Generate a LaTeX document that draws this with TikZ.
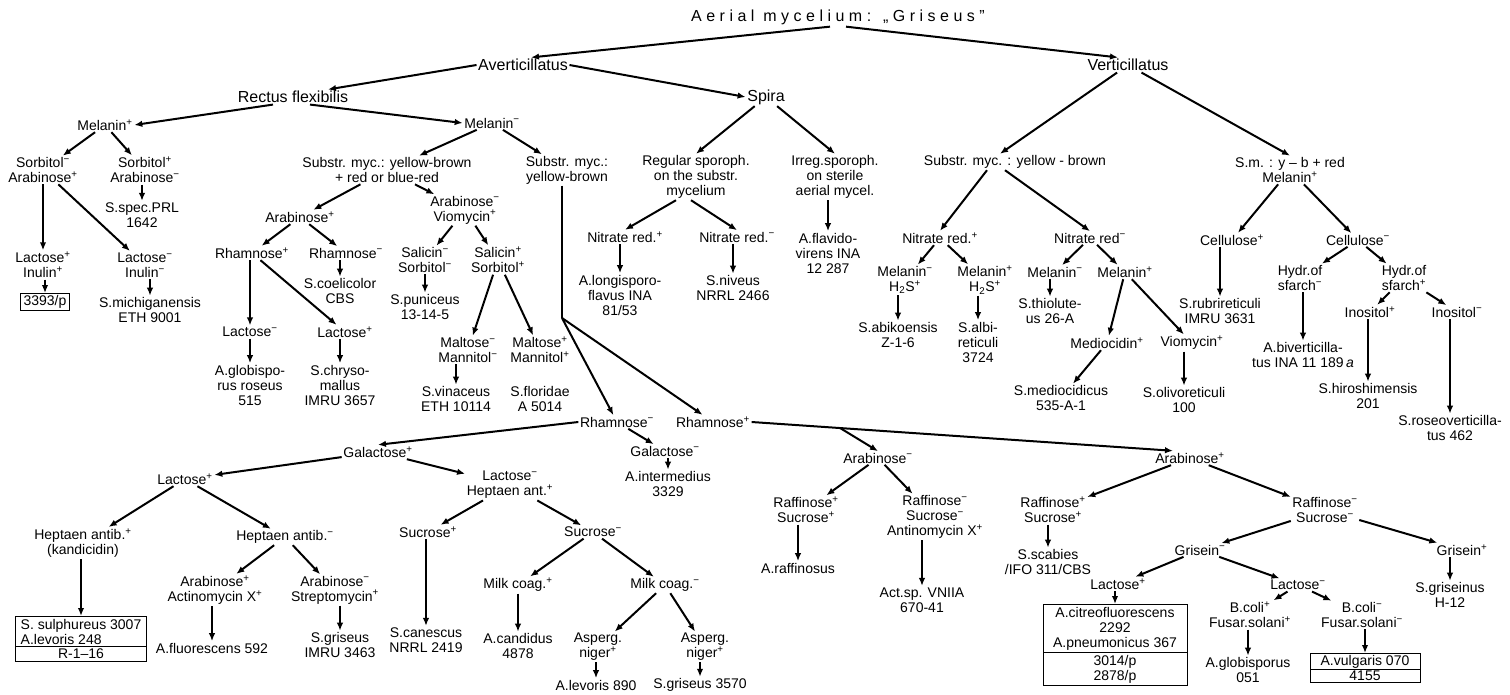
\documentclass[tikz,border=0pt]{standalone}
\usepackage{fontspec}
\setmainfont{Liberation Sans}
\usepackage{tikz}
\usetikzlibrary{arrows.meta, shapes.multipart, calc}

\newcommand{\upl}{\textsuperscript{+}}
\newcommand{\umi}{\textsuperscript{−}}

\tikzset{
  % Text styles
  lbl/.style={align=center, inner sep=1.5pt, font=\fontsize{14}{15}\selectfont},
  toplbl/.style={lbl, font=\fontsize{16}{17}\selectfont},
  titlelbl/.style={inner sep=2pt, font=\fontsize{16}{17}\selectfont\addfontfeature{LetterSpace=28}},
  % Box styles
  leafbox/.style={lbl, draw, line width=0.9pt, inner xsep=3pt, inner ysep=2pt},
  splitbox/.style={lbl, draw, line width=0.9pt, rectangle split, rectangle split parts=2, inner xsep=3pt, inner ysep=2pt},
  % Arrow styles
  arr/.style={-{Latex[length=8pt,width=6.5pt]}, line width=2pt},
  bare/.style={line width=2pt}
}

\begin{document}
\begin{tikzpicture}[x=1pt, y=-1pt]
  \useasboundingbox (0,0) rectangle (1510,694);

  % Top levels
  \node[titlelbl] (title) at (838,17) {Aerial mycelium: „Griseus”};
  \node[toplbl] (avert) at (523,65) {Averticillatus};
  \node[toplbl] (vert) at (1128,65) {Verticillatus};
  \node[toplbl] (rectus) at (293,97) {Rectus flexibilis};
  \node[toplbl] (spira) at (766,97) {Spira};

  % Rectus flexibilis, Melanin+
  \node[lbl] (melp) at (105,125) {Melanin\upl};
  \node[lbl] (sorbm) at (43,170) {Sorbitol\umi\\Arabinose\upl};
  \node[lbl] (sorbp) at (145,170) {Sorbitol\upl\\Arabinose\umi};
  \node[lbl] (spec) at (142,215) {S.spec.PRL\\1642};
  \node[lbl] (lacinp) at (43,265) {Lactose\upl\\Inulin\upl};
  \node[leafbox] (bx3393) at (45,302) {3393/p};
  \node[lbl] (lacinm) at (145,265) {Lactose\umi\\Inulin\umi};
  \node[lbl] (michi) at (150,310) {S.michiganensis\\ETH 9001};

  % Rectus flexibilis, Melanin-
  \node[lbl] (melm) at (492,123) {Melanin\umi};
  \node[lbl] (substra) at (387,170) {Substr. myc.: yellow-brown\\+ red or blue-red};
  \node[lbl] (substrb) at (567,170) {Substr. myc.:\\yellow-brown};
  \node[lbl] (arabpa) at (300,217) {Arabinose\upl};
  \node[lbl] (aravio) at (465,210) {Arabinose\umi\\Viomycin\upl};
  \node[lbl] (rhampa) at (252,253) {Rhamnose\upl};
  \node[lbl] (rhamma) at (346,253) {Rhamnose\umi};
  \node[lbl] (coeli) at (340,291) {S.coelicolor\\CBS};
  \node[lbl] (lacma) at (250,332) {Lactose\umi};
  \node[lbl] (lacpa) at (345,332) {Lactose\upl};
  \node[lbl] (globi) at (250,385) {A.globispo-\\rus roseus\\515};
  \node[lbl] (chryso) at (340,385) {S.chryso-\\mallus\\IMRU 3657};
  \node[lbl] (salm) at (425,260) {Salicin\umi\\Sorbitol\umi};
  \node[lbl] (salp) at (498,260) {Salicin\upl\\Sorbitol\upl};
  \node[lbl] (puni) at (425,307) {S.puniceus\\13-14-5};
  \node[lbl] (maltm) at (468,350) {Maltose\umi\\Mannitol\umi};
  \node[lbl] (maltp) at (540,350) {Maltose\upl\\Mannitol\upl};
  \node[lbl] (vina) at (456,399) {S.vinaceus\\ETH 10114};
  \node[lbl] (flori) at (540,399) {S.floridae\\A 5014};

  % Substr. myc.: yellow-brown
  \coordinate (split) at (562,318);
  \node[lbl] (rhammb) at (617,422) {Rhamnose\umi};
  \node[lbl] (rhampb) at (713,422) {Rhamnose\upl};
  \node[lbl] (galm) at (665,451) {Galactose\umi};
  \node[lbl] (inter) at (668,484) {A.intermedius\\3329};
  \node[lbl] (galp) at (378,452) {Galactose\upl};
  \node[lbl] (lacpb) at (185,479) {Lactose\upl};
  \node[lbl] (lachept) at (510,485) {Lactose\umi\\Heptaen ant.\upl};
  \node[lbl] (heptp) at (83,543) {Heptaen antib.\upl\\(kandicidin)};
  \node[lbl] (heptm) at (285,537) {Heptaen antib.\umi};
  \node[splitbox, align=left, minimum width=131pt, anchor=north] (sulph) at (81,616)
    {S. sulphureus 3007\\A.levoris 248\nodepart{two}R-1--16};
  \node[lbl] (araact) at (215,590) {Arabinose\upl\\Actinomycin X\upl};
  \node[lbl] (arastr) at (335,590) {Arabinose\umi\\Streptomycin\upl};
  \node[lbl] (fluor) at (212,648) {A.fluorescens 592};
  \node[lbl] (grisa) at (340,645) {S.griseus\\IMRU 3463};
  \node[lbl] (sucp) at (428,532) {Sucrose\upl};
  \node[lbl] (sucm) at (593,532) {Sucrose\umi};
  \node[lbl] (canes) at (426,640) {S.canescus\\NRRL 2419};
  \node[lbl] (milkp) at (518,585) {Milk coag.\upl};
  \node[lbl] (milkm) at (665,585) {Milk coag.\umi};
  \node[lbl] (candi) at (518,646) {A.candidus\\4878};
  \node[lbl] (aspa) at (598,647) {Asperg.\\niger\upl};
  \node[lbl] (aspb) at (705,647) {Asperg.\\niger\upl};
  \node[lbl] (levo) at (596,685) {A.levoris 890};
  \node[lbl] (grisb) at (700,685) {S.griseus 3570};

  % Spira
  \node[lbl] (regular) at (696,177) {Regular sporoph.\\on the substr.\\mycelium};
  \node[lbl] (irreg) at (835,177) {Irreg.sporoph.\\on sterile\\aerial mycel.};
  \node[lbl] (nitpa) at (625,237) {Nitrate red.\upl};
  \node[lbl] (nitma) at (737,237) {Nitrate red.\umi};
  \node[lbl] (longi) at (620,295) {A.longisporo-\\flavus INA\\81/53};
  \node[lbl] (niveus) at (733,288) {S.niveus\\NRRL 2466};
  \node[lbl] (flavi) at (828,253) {A.flavido-\\virens INA\\12 287};

  % Verticillatus
  \node[lbl] (substrc) at (1015,162) {Substr. myc. : yellow - brown};
  \node[lbl] (nitpb) at (940,238) {Nitrate red.\upl};
  \node[lbl] (nitmb) at (1090,238) {Nitrate red\umi};
  \node[lbl] (melha) at (905,280) {Melanin\umi\\H\textsubscript{2}S\upl};
  \node[lbl] (melhb) at (985,280) {Melanin\upl\\H\textsubscript{2}S\upl};
  \node[lbl] (abiko) at (898,335) {S.abikoensis\\Z-1-6};
  \node[lbl] (albi) at (978,342) {S.albi-\\reticuli\\3724};
  \node[lbl] (melmc) at (1055,272) {Melanin\umi};
  \node[lbl] (melpc) at (1125,272) {Melanin\upl};
  \node[lbl] (thio) at (1050,311) {S.thiolute-\\us 26-A};
  \node[lbl] (medio) at (1107,343) {Mediocidin\upl};
  \node[lbl] (viom) at (1192,343) {Viomycin\upl};
  \node[lbl] (medcid) at (1061,398) {S.mediocidicus\\535-A-1};
  \node[lbl] (olivo) at (1184,400) {S.olivoreticuli\\100};
  \node[lbl] (sm) at (1290,170) {S.m. : y – b + red\\Melanin\upl};
  \node[lbl] (cellp) at (1232,240) {Cellulose\upl};
  \node[lbl] (cellm) at (1358,240) {Cellulose\umi};
  \node[lbl] (rubri) at (1220,311) {S.rubrireticuli\\IMRU 3631};
  \node[lbl] (hydm) at (1300,278) {Hydr.of\\sfarch\umi};
  \node[lbl] (hydp) at (1404,278) {Hydr.of\\sfarch\upl};
  \node[lbl] (biver) at (1303,355) {A.biverticilla-\\tus INA 11 189\,\textit{a}};
  \node[lbl] (inop) at (1370,312) {Inositol\upl};
  \node[lbl] (inom) at (1457,312) {Inositol\umi};
  \node[lbl] (hiro) at (1368,396) {S.hiroshimensis\\201};
  \node[lbl] (roseo) at (1450,428) {S.roseoverticilla-\\tus 462};

  % Rhamnose+
  \node[lbl] (arabm) at (878,458) {Arabinose\umi};
  \node[lbl] (arabpb) at (1190,458) {Arabinose\upl};
  \node[lbl] (rsa) at (806,510) {Raffinose\upl\\Sucrose\upl};
  \node[lbl] (rsb) at (935,517) {Raffinose\umi\\Sucrose\umi\\Antinomycin X\upl};
  \node[lbl] (raffi) at (798,568) {A.raffinosus};
  \node[lbl] (actsp) at (922,600) {Act.sp. VNIIA\\670-41};
  \node[lbl] (rsc) at (1053,510) {Raffinose\upl\\Sucrose\upl};
  \node[lbl] (scab) at (1048,562) {S.scabies\\/IFO 311/CBS};
  \node[lbl] (rsd) at (1325,510) {Raffinose\umi\\Sucrose\umi};
  \node[lbl] (grism) at (1200,550) {Grisein\umi};
  \node[lbl] (grisp) at (1462,550) {Grisein\upl};
  \node[lbl] (griseinus) at (1450,595) {S.griseinus\\H-12};
  \node[lbl] (lacpc) at (1118,584) {Lactose\upl};
  \node[lbl] (lacmc) at (1298,585) {Lactose\umi};
  \node[splitbox, minimum width=144pt, anchor=north] (citreo) at (1115,604)
    {A.citreofluorescens\\2292\\A.pneumonicus 367\nodepart{two}3014/p\\2878/p};
  \node[lbl] (colip) at (1250,615) {B.coli\upl\\Fusar.solani\upl};
  \node[lbl] (colim) at (1362,615) {B.coli\umi\\Fusar.solani\umi};
  \node[lbl] (globb) at (1248,670) {A.globisporus\\051};
  \node[splitbox, inner ysep=1pt, minimum width=110pt, anchor=north] (vulg) at (1365,653)
    {A.vulgaris 070\nodepart{two}4155};

  % Connectors
  \draw[arr] ([xshift=-8pt]title.south) -- ([xshift=8pt]avert.north);
  \draw[arr] ([xshift=8pt]title.south) -- ([xshift=-10pt]vert.north);
  \draw[arr] (avert.west) -- ([xshift=35pt]rectus.north);
  \draw[arr] (avert.east) -- (spira.west);
  \draw[arr] ([xshift=-20pt]rectus.south) -- (melp.east);
  \draw[arr] ([xshift=17pt]rectus.south) -- (melm.west);
  \draw[arr] (vert) -- (sm.north);
  \draw[arr] (vert) -- ([xshift=-15pt]substrc.north);
  \draw[arr] (spira) -- (regular.north);
  \draw[arr] (spira) -- (irreg.north);
  \draw[arr] ([xshift=-20pt]regular.south) -- (nitpa.north);
  \draw[arr] ([xshift=-5pt]regular.south) -- (nitma.north);
  \draw[arr] ([xshift=-28pt]substrc.south) -- (nitpb.north);
  \draw[arr] ([xshift=-10pt]substrc.south) -- (nitmb.north);
  \draw[bare] (substrb.south -| split) -- (split);
  \draw[arr] (split) -- (rhammb);
  \draw[arr] (split) -- (rhampb);
  \draw[arr] (rhammb.west) -- (galp.north);
  \coordinate (arabtip) at ([xshift=-17pt]arabpb.north);
  \coordinate (br) at ($(rhampb.east)!0.21!(arabtip)$);
  \draw[arr] (rhampb.east) -- (arabtip);
  \draw[arr] (br) -- (arabm.north);

  \foreach \a/\b in {melp/sorbm, melp/sorbp, sorbm/lacinm, melm/substra, melm/substrb,
      substra/arabpa, substra/aravio, arabpa/rhampa, arabpa/rhamma, rhampa/lacpa,
      aravio/salm, aravio/salp, salp/maltm, salp/maltp, rhammb/galm, galp/lacpb,
      galp/lachept, lacpb/heptp, lacpb/heptm, heptm/araact, heptm/arastr,
      lachept/sucp, lachept/sucm, sucm/milkp, sucm/milkm, milkm/aspa, milkm/aspb,
      nitpb/melha, nitpb/melhb, nitmb/melmc, nitmb/melpc, melpc/medio, melpc/viom,
      medio/medcid, sm/cellp, sm/cellm, cellm/hydm, cellm/hydp, hydp/inop, hydp/inom,
      arabm/rsa, arabm/rsb, arabpb/rsc, arabpb/rsd, rsd/grism, rsd/grisp,
      grism/lacpc, grism/lacmc, lacmc/colip, lacmc/colim}
    \draw[arr] (\a) -- (\b);

  \foreach \a/\b in {sorbm/lacinp, sorbp/spec, lacinp/bx3393, lacinm/michi, rhamma/coeli,
      rhampa/lacma, lacma/globi, lacpa/chryso, salm/puni, maltm/vina, galm/inter,
      heptp/sulph, araact/fluor, arastr/grisa, sucp/canes, milkp/candi, aspa/levo,
      aspb/grisb, nitpa/longi, nitma/niveus, irreg/flavi, melha/abiko, melhb/albi,
      melmc/thio, viom/olivo, cellp/rubri, hydm/biver, inop/hiro, inom/roseo,
      rsa/raffi, rsb/actsp, rsc/scab, grisp/griseinus, lacpc/citreo, colip/globb,
      colim/vulg}
    \draw[arr] (\a.south -| \b.north) -- (\b.north);
\end{tikzpicture}
\end{document}
